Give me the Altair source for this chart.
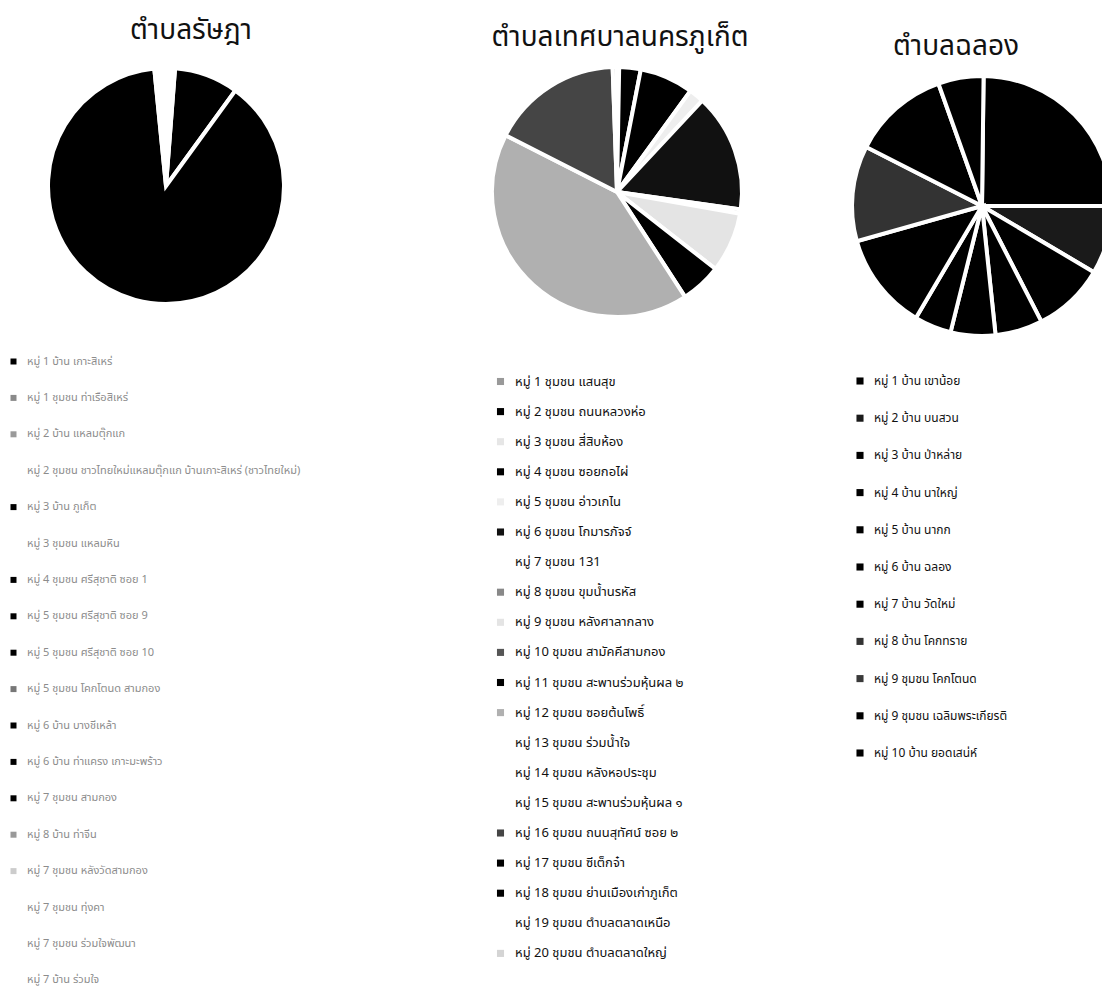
import math
import altair as alt
import pandas as pd

# ---------------- data ----------------
title_left = "ตำบลรัษฎา"
title_mid = "ตำบลเทศบาลนครภูเก็ต"
title_right = "ตำบลฉลอง"

left_labels = [
    "หมู่ 1 บ้าน เกาะสิเหร่",
    "หมู่ 1 ชุมชน ท่าเรือสิเหร่",
    "หมู่ 2 บ้าน แหลมตุ๊กแก",
    "หมู่ 2 ชุมชน ชาวไทยใหม่แหลมตุ๊กแก บ้านเกาะสิเหร่ (ชาวไทยใหม่)",
    "หมู่ 3 บ้าน ภูเก็ต",
    "หมู่ 3 ชุมชน แหลมหิน",
    "หมู่ 4 ชุมชน ศรีสุชาติ ซอย 1",
    "หมู่ 5 ชุมชน ศรีสุชาติ ซอย 9",
    "หมู่ 5 ชุมชน ศรีสุชาติ ซอย 10",
    "หมู่ 5 ชุมชน โคกโตนด สามกอง",
    "หมู่ 6 บ้าน บางชีเหล้า",
    "หมู่ 6 บ้าน ท่าแครง เกาะมะพร้าว",
    "หมู่ 7 ชุมชน สามกอง",
    "หมู่ 8 บ้าน ท่าจีน",
    "หมู่ 7 ชุมชน หลังวัดสามกอง",
    "หมู่ 7 ชุมชน ทุ่งคา",
    "หมู่ 7 ชุมชน ร่วมใจพัฒนา",
    "หมู่ 7 บ้าน ร่วมใจ",
]
left_values = [31.6, 0, 0, 0, 318.3, 10.1, 0, 0, 0, 0, 0, 0, 0, 0, 0, 0, 0, 0]
left_colors = ["#000000", "#8a8a8a", "#9a9a9a", "#ffffff", "#000000", "#ffffff",
               "#000000", "#000000", "#000000", "#777777", "#000000", "#000000",
               "#000000", "#999999", "#cccccc", "#ffffff", "#ffffff", "#ffffff"]

mid_labels = [
    "หมู่ 1 ชุมชน แสนสุข",
    "หมู่ 2 ชุมชน ถนนหลวงห่อ",
    "หมู่ 3 ชุมชน สี่สิบห้อง",
    "หมู่ 4 ชุมชน ซอยกอไผ่",
    "หมู่ 5 ชุมชน อ่าวเกไน",
    "หมู่ 6 ชุมชน โกมารภัจจ์",
    "หมู่ 7 ชุมชน 131",
    "หมู่ 8 ชุมชน ขุมน้ำนรหัส",
    "หมู่ 9 ชุมชน หลังศาลากลาง",
    "หมู่ 10 ชุมชน สามัคคีสามกอง",
    "หมู่ 11 ชุมชน สะพานร่วมหุ้นผล ๒",
    "หมู่ 12 ชุมชน ซอยต้นโพธิ์",
    "หมู่ 13 ชุมชน ร่วมน้ำใจ",
    "หมู่ 14 ชุมชน หลังหอประชุม",
    "หมู่ 15 ชุมชน สะพานร่วมหุ้นผล ๑",
    "หมู่ 16 ชุมชน ถนนสุทัศน์ ซอย ๒",
    "หมู่ 17 ชุมชน ซีเต็กจ๋า",
    "หมู่ 18 ชุมชน ย่านเมืองเก่าภูเก็ต",
    "หมู่ 19 ชุมชน ตำบลตลาดเหนือ",
    "หมู่ 20 ชุมชน ตำบลตลาดใหญ่",
]
mid_values = [1, 10, 0, 25, 7, 55, 0, 2, 28, 0, 19, 150, 0, 0, 0, 61, 0, 0, 0, 2]
mid_colors = ["#999999", "#000000", "#e6e6e6", "#000000", "#eeeeee", "#111111",
              "#ffffff", "#888888", "#e4e4e4", "#555555", "#000000", "#b0b0b0",
              "#ffffff", "#ffffff", "#ffffff", "#454545", "#000000", "#000000",
              "#ffffff", "#d4d4d4"]

right_labels = [
    "หมู่ 1 บ้าน เขาน้อย",
    "หมู่ 2 บ้าน บนสวน",
    "หมู่ 3 บ้าน ป่าหล่าย",
    "หมู่ 4 บ้าน นาใหญ่",
    "หมู่ 5 บ้าน นากก",
    "หมู่ 6 บ้าน ฉลอง",
    "หมู่ 7 บ้าน วัดใหม่",
    "หมู่ 8 บ้าน โคกทราย",
    "หมู่ 9 ชุมชน โคกโตนด",
    "หมู่ 9 ชุมชน เฉลิมพระเกียรติ",
    "หมู่ 10 บ้าน ยอดเสน่ห์",
]
right_values = [89.3, 30.6, 32.2, 21.2, 20.0, 16.6, 43.7, 42.7, 0, 43.4, 20.3]
right_colors = ["#000000", "#1a1a1a", "#000000", "#000000", "#000000", "#000000",
                "#000000", "#333333", "#3a3a3a", "#000000", "#000000"]

FONT = "Noto Sans Thai, Noto Sans, Loma, Garuda, sans-serif"


def pie(labels, values, colors, cx, cy, r, rot_deg, lx, ly, lsize, lcolor, rowpad, symsize):
    df = pd.DataFrame({"label": labels, "v": values, "i": list(range(len(labels)))})
    off = math.radians(rot_deg)
    return (
        alt.Chart(df)
        .transform_filter("datum.v > 0")
        .mark_arc(outerRadius=r, stroke="white", strokeWidth=4)
        .encode(
            x=alt.value(cx),
            y=alt.value(cy),
            theta=alt.Theta("v:Q", stack=True,
                            scale=alt.Scale(range=[off, off + 2 * math.pi])),
            order=alt.Order("i:Q"),
            color=alt.Color(
                "label:N",
                scale=alt.Scale(domain=labels, range=colors),
                legend=alt.Legend(
                    orient="none", legendX=lx, legendY=ly, title=None,
                    symbolType="square", symbolSize=symsize,
                    symbolStrokeWidth=0, labelFontSize=lsize,
                    labelColor=lcolor, labelFont=FONT, labelLimit=500,
                    rowPadding=rowpad, labelOffset=8,
                ),
            ),
        )
    )


def title(text, cx, cy):
    return alt.Chart(pd.DataFrame({"t": [text]})).mark_text(
        fontSize=28, font=FONT, color="#111111", align="center", baseline="alphabetic"
    ).encode(x=alt.value(cx), y=alt.value(cy), text="t:N")


left = pie(left_labels, left_values, left_colors, 158, 178, 118, 4.4,
           0, 348, 11, "#8c8c8c", 24.4, 36)
mid = pie(mid_labels, mid_values, mid_colors, 609, 184, 125, 0,
          486, 367, 13, "#111111", 16.1, 50)
right = pie(right_labels, right_values, right_colors, 974, 198, 130, 0.7,
            846, 367, 12, "#111111", 25.2, 50)

chart = (
    alt.layer(
        left, mid, right,
        title(title_left, 183, 31),
        title(title_mid, 612, 38),
        title(title_right, 948, 47),
    )
    .resolve_scale(theta="independent", color="independent")
    .properties(width=1094, height=981, autosize="none", padding=0)
    .configure_view(stroke=None)
)

chart.save("out.html", embed_options={"renderer": "svg", "actions": False})
